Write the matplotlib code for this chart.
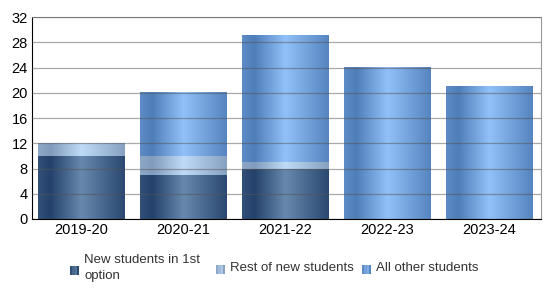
import numpy as np
import matplotlib.pyplot as plt
from matplotlib.legend_handler import HandlerBase
from matplotlib.patches import Rectangle
from matplotlib.colors import to_rgb

plt.rcParams['font.family'] = ['Liberation Sans', 'DejaVu Sans']

years = ["2019-20", "2020-21", "2021-22", "2022-23", "2023-24"]
first_option = [10, 7, 8, 0, 0]
rest_new = [2, 3, 1, 0, 0]
others = [0, 10, 20, 24, 21]
labels = ["New students in 1st\noption", "Rest of new students", "All other students"]

# (dark colour, highlight colour) for each series
shades = [("#23416a", "#6888ad"), ("#809bbb", "#c0dbf7"), ("#4f7db8", "#92c1f9")]

def gradient(edge, light, n=200):
    t = np.linspace(0, 1, n)
    w = np.interp(t, [0, 0.14, 0.5, 1], [0.22, 0.0, 1.0, 0.1])
    e = np.array(to_rgb(edge))
    l = np.array(to_rgb(light))
    return (e[None, :] * (1 - w[:, None]) + l[None, :] * w[:, None])[None, :, :]


class GradHandler(HandlerBase):
    def __init__(self, edge, light):
        super().__init__()
        self.edge, self.light = edge, light

    def create_artists(self, legend, orig_handle, xd, yd, w, h, fontsize, trans):
        g = gradient(self.edge, self.light, 4)[0]
        s = 6.5
        x0 = xd + (w - s) / 2
        y0 = yd + (h - s) / 2 - 2
        arts = []
        for i, c in enumerate(g):
            r = Rectangle((x0 + i * s / 4, y0), s / 4, s, facecolor=c, edgecolor="none",
                          transform=trans)
            arts.append(r)
        return arts


fig = plt.figure(figsize=(5.5, 3.05), dpi=100)
ax = fig.add_axes([0.058, 0.282, 0.926, 0.662])

x = np.arange(len(years))
bottoms = np.zeros(len(years))
handles = []
for vals, (edge, light), lab in zip([first_option, rest_new, others], shades, labels):
    bars = ax.bar(x, vals, width=0.85, bottom=bottoms, color="none", label=lab)
    img = gradient(edge, light)
    for p in bars.patches:
        if p.get_height() <= 0:
            continue
        ax.imshow(img, extent=[p.get_x(), p.get_x() + p.get_width(), p.get_y(),
                               p.get_y() + p.get_height()], aspect="auto", zorder=1,
                  interpolation="bilinear")
    bottoms += np.array(vals)
    handles.append(bars)

ax.set_xlim(-0.48, 4.51)
ax.set_ylim(0, 32)
ax.set_yticks(range(0, 33, 4))
ax.set_xticks(x)
ax.set_xticklabels(years)
ax.tick_params(length=0, labelsize=10.5, pad=3)
ax.yaxis.grid(True, color="#555555", linewidth=0.9, alpha=0.5, zorder=3)
ax.set_axisbelow(False)
for s in ["top", "right"]:
    ax.spines[s].set_color("#999999")
for s in ["left", "bottom"]:
    ax.spines[s].set_color("black")

# one legend per entry, fixed column positions
for h, (e, l), lab, lx in zip(handles, shades, labels, [68, 214, 360]):
    leg = fig.legend([h], [lab], loc="center left", bbox_to_anchor=(lx / 550, 0.122),
                     frameon=False, fontsize=9.5, handler_map={h: GradHandler(e, l)},
                     handlelength=1.0, handletextpad=0.25, borderpad=0, borderaxespad=0,
                     labelcolor="#333333")
    for t in leg.get_texts():
        t.set_linespacing(1.45)

fig.savefig("out.png", dpi=100)
